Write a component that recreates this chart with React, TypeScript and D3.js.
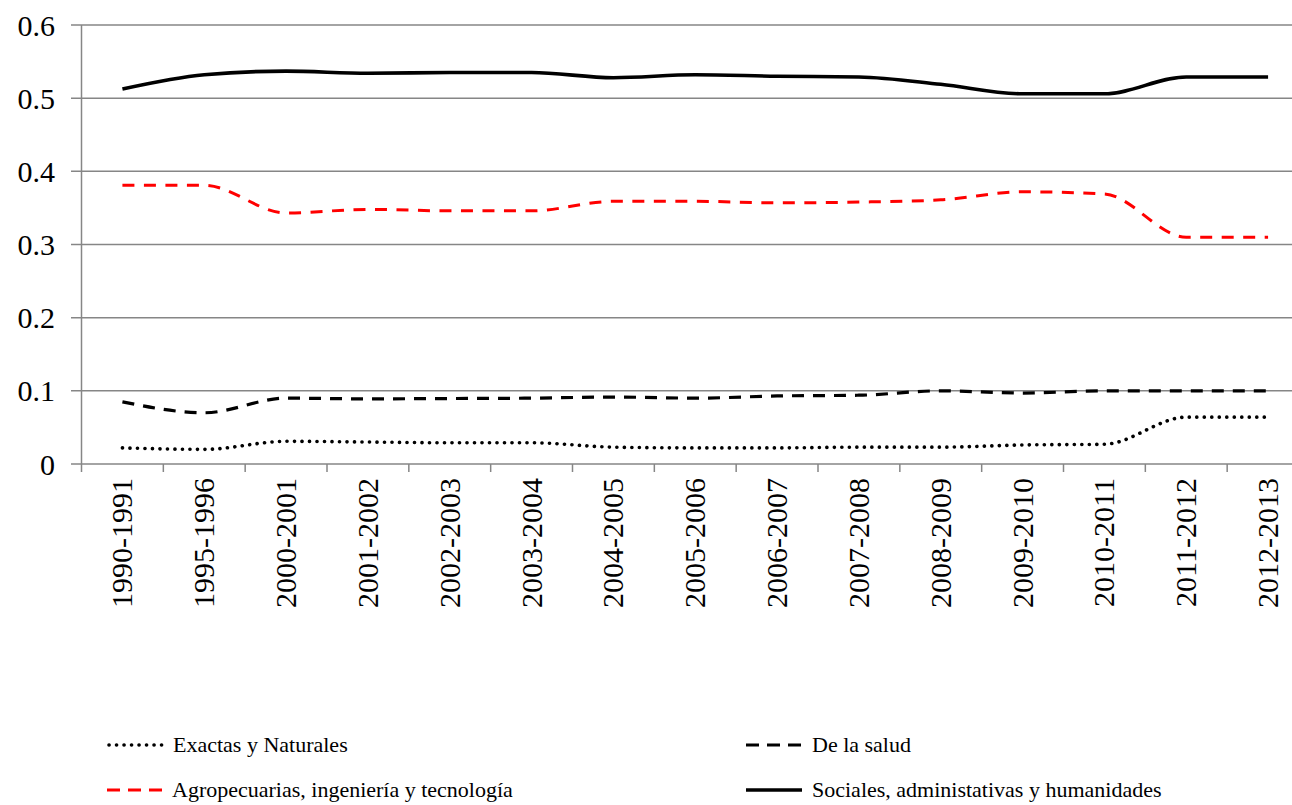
import { useEffect, useRef } from 'react'
import * as d3 from 'd3'

const categories = [
  '1990-1991', '1995-1996', '2000-2001', '2001-2002', '2002-2003', '2003-2004', '2004-2005',
  '2005-2006', '2006-2007', '2007-2008', '2008-2009', '2009-2010', '2010-2011', '2011-2012', '2012-2013',
]

const exactas = [0.022, 0.020, 0.031, 0.030, 0.029, 0.029, 0.023, 0.022, 0.022, 0.023, 0.023, 0.026, 0.027, 0.064, 0.064]
const salud = [0.085, 0.070, 0.090, 0.089, 0.0895, 0.090, 0.0915, 0.090, 0.093, 0.094, 0.100, 0.097, 0.100, 0.100, 0.100]
const agro = [0.381, 0.381, 0.343, 0.348, 0.346, 0.346, 0.359, 0.359, 0.357, 0.358, 0.361, 0.372, 0.369, 0.310, 0.310]
const sociales = [0.5125, 0.532, 0.537, 0.534, 0.535, 0.535, 0.528, 0.532, 0.530, 0.529, 0.519, 0.506, 0.506, 0.529, 0.529]

const yTicks = [0, 0.1, 0.2, 0.3, 0.4, 0.5, 0.6]

const series = [
  { name: 'Exactas y Naturales', values: exactas, color: '#000', dash: '0.1 7.4', cap: 'round', width: 3.6 },
  { name: 'De la salud', values: salud, color: '#000', dash: '12 9', cap: 'butt', width: 3.2 },
  { name: 'Agropecuarias, ingeniería y tecnología', values: agro, color: '#ff0000', dash: '12 9.5', cap: 'butt', width: 3 },
  { name: 'Sociales, administativas y humanidades', values: sociales, color: '#000', dash: null, cap: 'butt', width: 3.6 },
]

const W = 1292
const H = 805
const FONT = "'Liberation Serif', 'DejaVu Serif', serif"

export default function App() {
  const svgRef = useRef<SVGSVGElement>(null)

  useEffect(() => {
    if (!svgRef.current) return
    const svg = d3.select(svgRef.current)
    svg.selectAll('*').remove()

    // plot runs past the right edge of the picture, as in the source
    const margin = { left: 81.5, right: -17, top: 25, bottom: 341 }
    const x = d3.scaleBand()
      .domain(categories)
      .range([margin.left, W - margin.right])
    const y = d3.scaleLinear()
      .domain([0, 0.6])
      .range([H - margin.bottom, margin.top])

    const grid = '#868686'

    // gridlines
    svg.append('g')
      .selectAll('line')
      .data(yTicks)
      .join('line')
      .attr('x1', 71)
      .attr('x2', W)
      .attr('y1', d => y(d))
      .attr('y2', d => y(d))
      .attr('stroke', grid)
      .attr('stroke-width', 1.5)

    // y axis line
    svg.append('line')
      .attr('x1', margin.left).attr('x2', margin.left)
      .attr('y1', y(0.6)).attr('y2', y(0) + 8)
      .attr('stroke', grid).attr('stroke-width', 1.5)

    // x ticks
    const edges = categories.map(c => x(c)!).concat([x(categories[categories.length - 1])! + x.bandwidth()])
    svg.append('g')
      .selectAll('line')
      .data(edges.slice(1))
      .join('line')
      .attr('x1', d => d).attr('x2', d => d)
      .attr('y1', y(0)).attr('y2', y(0) + 8)
      .attr('stroke', grid).attr('stroke-width', 1.5)

    // y tick labels
    svg.append('g')
      .selectAll('text')
      .data(yTicks)
      .join('text')
      .attr('x', 55)
      .attr('y', d => y(d))
      .attr('dy', '0.35em')
      .attr('text-anchor', 'end')
      .attr('font-family', FONT)
      .attr('font-size', 30)
      .text(d => d === 0 ? '0' : d.toFixed(1))

    // x tick labels
    svg.append('g')
      .selectAll('text')
      .data(categories)
      .join('text')
      .attr('transform', d => `translate(${x(d)! + x.bandwidth() / 2 + 10}, 478) rotate(-90)`)
      .attr('text-anchor', 'end')
      .attr('font-family', FONT)
      .attr('font-size', 30)
      .text(d => d)

    // lines
    const line = d3.line<number>()
      .x((_, i) => x(categories[i])! + x.bandwidth() / 2)
      .y(d => y(d))
      .curve(d3.curveMonotoneX)

    series.forEach(s => {
      svg.append('path')
        .datum(s.values)
        .attr('d', line)
        .attr('fill', 'none')
        .attr('stroke', s.color)
        .attr('stroke-width', s.width)
        .attr('stroke-linecap', s.cap)
        .attr('stroke-dasharray', s.dash)
    })

    // legend
    const legendPos = [
      { x: 107, y: 745 },
      { x: 746, y: 745 },
      { x: 107, y: 790 },
      { x: 746, y: 790 },
    ]
    series.forEach((s, i) => {
      const p = legendPos[i]
      const g = svg.append('g').attr('transform', `translate(${p.x}, ${p.y})`)
      g.append('line')
        .attr('x1', s.cap === 'round' ? 2 : 0)
        .attr('x2', 56)
        .attr('y1', 0).attr('y2', 0)
        .attr('stroke', s.color)
        .attr('stroke-width', s.width)
        .attr('stroke-linecap', s.cap)
        .attr('stroke-dasharray', s.dash ? (s.cap === 'round' ? s.dash : '13 8') : null)
      g.append('text')
        .attr('x', i === 2 ? 65 : 66)
        .attr('y', 0)
        .attr('dy', '0.33em')
        .attr('font-family', FONT)
        .attr('font-size', 22)
        .text(s.name)
    })
  }, [])

  return (
    <svg
      ref={svgRef}
      width={W}
      height={H}
      style={{ position: 'absolute', left: 0, top: 0, background: '#fff' }}
    />
  )
}
